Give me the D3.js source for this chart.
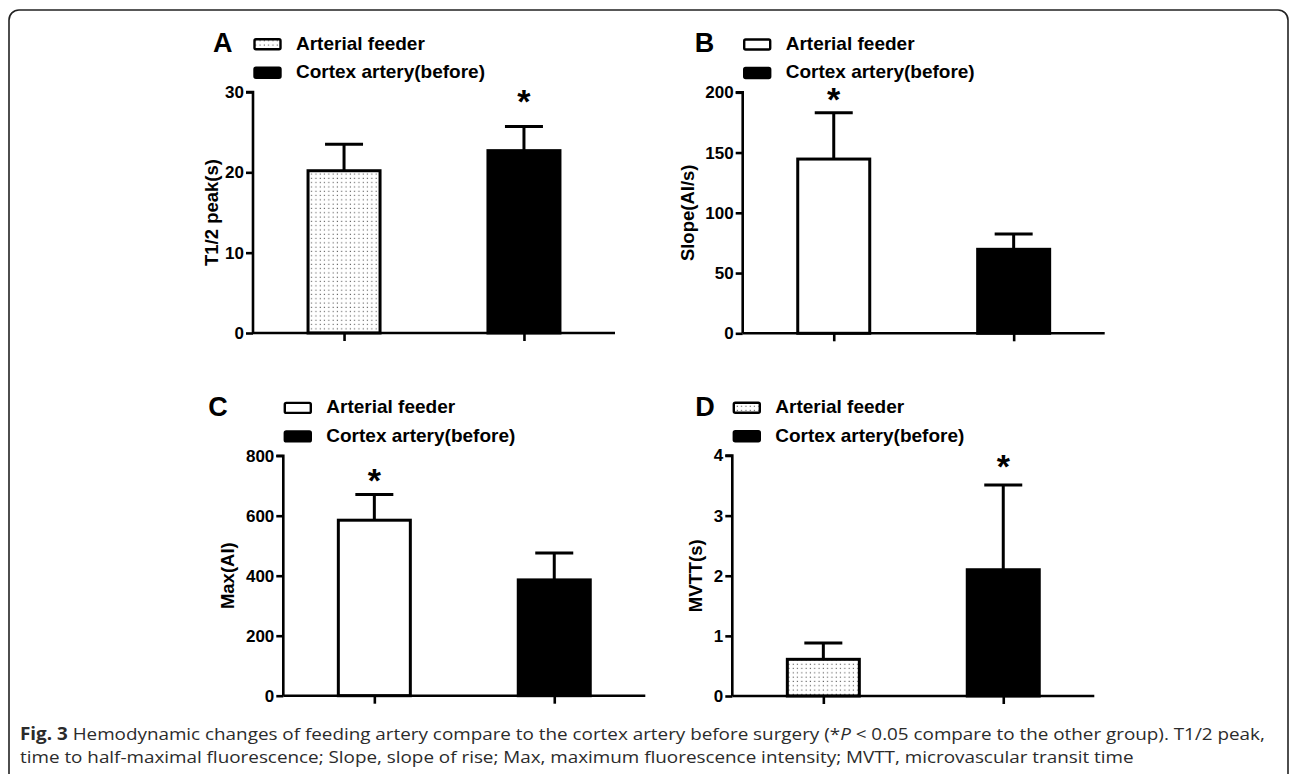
<!DOCTYPE html>
<html><head><meta charset="utf-8">
<script src="https://cdn.jsdelivr.net/npm/d3@7"></script>
<style>
html,body{margin:0;padding:0;background:#fff;}
svg{display:block;}
</style></head>
<body>
<svg id="chart" width="1290" height="774"></svg>
<script>
// ---- data ----
const categories = ["Arterial feeder", "Cortex artery(before)"];
const panelLetters = ["A", "B", "C", "D"];
const yTitles = ["T1/2 peak(s)", "Slope(AI/s)", "Max(AI)", "MVTT(s)"];
const meansA = [20.2, 22.7];  const sdA = [3.3, 3.0];
const meansB = [144.6, 69.7]; const sdB = [38.4, 12.7];
const meansC = [585, 386];    const sdC = [86, 90];
const meansD = [0.61, 2.10];  const sdD = [0.27, 1.41];
const yMaxes = [30, 200, 800, 4];
const yTicksA = [0, 10, 20, 30];
const yTicksB = [0, 50, 100, 150, 200];
const yTicksC = [0, 200, 400, 600, 800];
const yTicksD = [0, 1, 2, 3, 4];
const sigGroup = [1, 0, 0, 1];          // which bar has the asterisk
const sigLevel = [29.0, 195, 722, 3.85];  // asterisk height (data units)
const firstBarDotted = [true, false, false, true];
const captionBold = "Fig. 3";
const captionLine1 = " Hemodynamic changes of feeding artery compare to the cortex artery before surgery (*";
const captionItalic = "P";
const captionLine1b = " < 0.05 compare to the other group). T1/2 peak,";
const captionLine2 = "time to half-maximal fluorescence; Slope, slope of rise; Max, maximum fluorescence intensity; MVTT, microvascular transit time";

const means = [meansA, meansB, meansC, meansD];
const sds = [sdA, sdB, sdC, sdD];
const yTicks = [yTicksA, yTicksB, yTicksC, yTicksD];

// ---- layout (styles) ----
const axisX = [253, 742.7, 283.3, 732.3];
const axisTop = [92, 92.3, 455.7, 455.5];
const axisBottom = [333, 333.3, 695.7, 696];
const axisLen = 362;
const barW = 72;
const letterDx = [-40, -48, -75, -37];
const titleX = [211, 687, 227, 695];

const svg = d3.select("#chart");
const defs = svg.append("defs");
const pat = defs.append("pattern").attr("id", "dots")
  .attr("patternUnits", "userSpaceOnUse").attr("width", 4.3).attr("height", 4.3);
pat.append("rect").attr("width", 4.3).attr("height", 4.3).attr("fill", "#fff");
pat.append("rect").attr("x", 1.5).attr("y", 1.5).attr("width", 1.1).attr("height", 1.1).attr("fill", "#555");

// border
svg.append("rect").attr("x", 9).attr("y", 10).attr("width", 1279).attr("height", 790)
  .attr("rx", 10).attr("fill", "none").attr("stroke", "#222").attr("stroke-width", 1.6);

const sans = "'Liberation Sans', Arial, Helvetica, sans-serif";

panelLetters.forEach((L, i) => {
  const g = svg.append("g");
  const x0 = axisX[i], yT = axisTop[i], yB = axisBottom[i];
  const y = d3.scaleLinear().domain([0, yMaxes[i]]).range([yB, yT]);
  const x = d3.scalePoint().domain(categories).range([x0, x0 + axisLen]).padding(0.506);

  // bars
  categories.forEach((c, j) => {
    const cx = x(c);
    const top = y(means[i][j]);
    const errTop = y(means[i][j] + sds[i][j]);
    // error bar (upper only)
    g.append("line").attr("x1", cx).attr("x2", cx).attr("y1", top).attr("y2", errTop)
      .attr("stroke", "#000").attr("stroke-width", 3);
    g.append("line").attr("x1", cx - 19).attr("x2", cx + 19).attr("y1", errTop).attr("y2", errTop)
      .attr("stroke", "#000").attr("stroke-width", 3);
    const fill = j === 1 ? "#000" : (firstBarDotted[i] ? "url(#dots)" : "#fff");
    g.append("rect").attr("x", cx - barW / 2).attr("y", top)
      .attr("width", barW).attr("height", yB - top)
      .attr("fill", fill).attr("stroke", "#000").attr("stroke-width", 3);
  });

  // asterisk
  const sx = x(categories[sigGroup[i]]);
  g.append("text").attr("x", sx).attr("y", y(sigLevel[i]) + 13)
    .attr("text-anchor", "middle").attr("font-family", sans).attr("font-weight", "bold")
    .attr("font-size", 34).text("*");

  // y axis
  const ya = d3.axisLeft(y).tickValues(yTicks[i]).tickSize(7).tickPadding(2).tickFormat(d3.format("d"));
  const yg = g.append("g").attr("transform", `translate(${x0},0)`).call(ya);
  yg.select(".domain").attr("stroke", "#000").attr("stroke-width", 2.6).attr("d", `M-7,${yT}H0V${yB}`);
  yg.selectAll(".tick line").attr("stroke", "#000").attr("stroke-width", 2.6);
  yg.selectAll(".tick text").attr("font-family", sans).attr("font-weight", "bold")
    .attr("font-size", 17).attr("fill", "#000");

  // x axis
  const xa = d3.axisBottom(x).tickSize(8).tickFormat("");
  const xg = g.append("g").attr("transform", `translate(0,${yB})`).call(xa);
  xg.select(".domain").attr("stroke", "#000").attr("stroke-width", 2.6).attr("d", `M${x0},0H${x0 + axisLen}`);
  xg.selectAll(".tick line").attr("stroke", "#000").attr("stroke-width", 2.6);

  // y title
  g.append("text").attr("transform", `translate(${titleX[i]},${(yT + yB) / 2}) rotate(-90)`)
    .attr("text-anchor", "middle").attr("dominant-baseline", "central")
    .attr("font-family", sans).attr("font-weight", "bold").attr("font-size", 18.5)
    .attr("fill", "#000").text(yTitles[i]);

  // panel letter
  g.append("text").attr("x", x0 + letterDx[i]).attr("y", yT - 40)
    .attr("font-family", sans).attr("font-weight", "bold").attr("font-size", 27)
    .attr("fill", "#000").text(L);

  // legend
  categories.forEach((c, j) => {
    const ry = yT - 54 + j * 28.5;
    const fill = j === 1 ? "#000" : (firstBarDotted[i] ? "url(#dots)" : "#fff");
    g.append("rect").attr("x", x0 + 1.5).attr("y", ry + 1.2).attr("width", 26).attr("height", 10)
      .attr("rx", 1.5).attr("fill", fill).attr("stroke", "#000").attr("stroke-width", 2.4);
    g.append("text").attr("x", x0 + 43).attr("y", ry + 11.5)
      .attr("font-family", sans).attr("font-weight", "bold").attr("font-size", 19)
      .attr("fill", "#000").text(c);
  });
});

// caption
const capFont = "'Open Sans', 'Noto Sans', sans-serif";
const cap1 = svg.append("text").attr("x", 0).attr("y", 0)
  .attr("font-family", capFont).attr("font-size", 17).attr("fill", "#2b2b2b");
cap1.append("tspan").attr("font-weight", "bold").text(captionBold);
cap1.append("tspan").text(captionLine1);
cap1.append("tspan").attr("font-style", "italic").text(captionItalic);
cap1.append("tspan").text(captionLine1b);
const w1 = cap1.node().getComputedTextLength();
const sx1 = 1246 / w1;
cap1.attr("transform", `translate(20,740) scale(${sx1},1)`);

const cap2 = svg.append("text").attr("x", 0).attr("y", 0)
  .attr("font-family", capFont).attr("font-size", 17).attr("fill", "#2b2b2b")
  .attr("transform", `translate(20,763) scale(${sx1},1)`)
  .text(captionLine2);
</script>
</body></html>
